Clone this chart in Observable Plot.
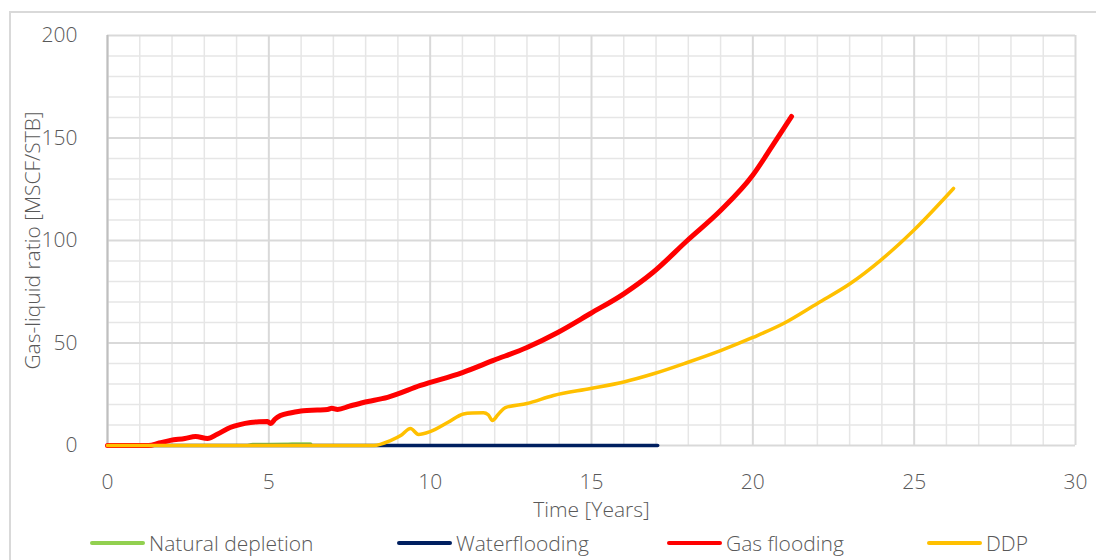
<!DOCTYPE html>
<html>
<head>
<meta charset="utf-8">
<script src="https://cdn.jsdelivr.net/npm/d3@7"></script>
<script src="https://cdn.jsdelivr.net/npm/@observablehq/plot@0.6"></script>
<style>
  html, body { margin: 0; padding: 0; background: #fff; }
  #wrap { position: relative; width: 1096px; height: 560px; overflow: hidden; font-family: "Open Sans", sans-serif; font-weight: 300; }
  #frame { position: absolute; left: 9px; top: 11px; width: 1100px; height: 560px; border-left: 2px solid #d9d9d9; border-top: 2px solid #d9d9d9; box-sizing: border-box; }
  #chart { position: absolute; left: 0; top: 0; }
  #legend { position: absolute; top: 529px; left: 0; width: 1096px; height: 28px; font-size: 21px; color: #595959; }
  .item { position: absolute; display: flex; align-items: center; white-space: nowrap; }
  .sw { display: inline-block; width: 55px; height: 4px; border-radius: 2px; margin-right: 4px; }
</style>
</head>
<body>
<div id="wrap">
  <div id="frame"></div>
  <div id="chart"></div>
  <div id="legend"></div>
</div>
<script>
// ---- data ----
const seriesNames = ["Natural depletion", "Waterflooding", "Gas flooding", "DDP"];
const seriesColors = ["#92D050", "#002060", "#FF0000", "#FFC000"];

const naturalT = [0, 4.3, 4.5, 5.5, 6.0, 6.3];
const naturalV = [0, 0, 0.6, 0.7, 0.9, 0.8];

const waterT = [0, 5, 10, 15, 17.05];
const waterV = [0, 0, 0, 0, 0];

const gasT = [0, 1.27, 1.6, 1.95, 2.4, 2.73, 3.1, 3.4, 3.8, 4.1, 4.43, 4.7, 4.96, 5.05, 5.2, 5.36, 5.7, 6.07, 6.5, 6.82, 6.95, 7.13, 7.5, 7.93, 8.68, 9.7, 11.0, 11.96, 13.0, 13.94, 14.97, 16.0, 16.9, 17.97, 19.0, 19.99, 20.64, 21.2];
const gasV = [0, 0, 1.2, 2.5, 3.4, 4.4, 3.4, 5.5, 8.8, 10.2, 11.2, 11.6, 11.7, 10.7, 13, 14.6, 16, 17, 17.3, 17.6, 18.2, 17.6, 19.2, 21, 23.5, 29.3, 35.6, 41.5, 47.8, 55, 64.4, 74, 84.4, 100, 114.6, 131.7, 147, 160.5];

const ddpT = [0, 8.25, 8.77, 9.1, 9.39, 9.64, 10.0, 10.54, 11.03, 11.3, 11.65, 11.8, 11.93, 12.1, 12.33, 13.0, 13.82, 14.97, 16.0, 16.92, 17.97, 19.0, 20.0, 20.95, 22.0, 23.02, 23.95, 24.98, 26.22];
const ddpV = [0, 0, 2.4, 5, 8.3, 5.4, 6.8, 11.2, 15.4, 15.9, 16, 15, 12.2, 15, 18.5, 20.5, 24.4, 27.8, 31, 35, 40.5, 46.3, 52.7, 59.5, 69.3, 79, 90.2, 104.9, 125.4];

const xTicks = [0, 5, 10, 15, 20, 25, 30];
const yTicks = [0, 50, 100, 150, 200];

// ---- build ----
const toRows = (ts, vs) => ts.map((t, i) => ({t, v: vs[i]}));
const natural = toRows(naturalT, naturalV);
const water = toRows(waterT, waterV);
const gas = toRows(gasT, gasV);
const ddp = toRows(ddpT, ddpV);

const minorX = d3.range(0, 31, 1).filter(d => d % 5 !== 0);
const majorX = d3.range(0, 31, 5);
const minorY = d3.range(0, 201, 10).filter(d => d % 50 !== 0);
const majorY = d3.range(0, 201, 50);

const chart = Plot.plot({
  width: 1096,
  height: 525,
  marginLeft: 107,
  marginRight: 21,
  marginTop: 35,
  marginBottom: 80,
  style: {fontFamily: "Open Sans, sans-serif", fontWeight: 300, fontSize: "21px", color: "#595959", background: "transparent"},
  x: {domain: [0, 30], ticks: xTicks, tickSize: 0, label: null},
  y: {domain: [0, 200], ticks: yTicks, tickSize: 0, label: null},
  marks: [
    Plot.ruleX(minorX, {stroke: "#e6e6e6", strokeWidth: 1.5}),
    Plot.ruleY(minorY, {stroke: "#e6e6e6", strokeWidth: 1.5}),
    Plot.ruleX(majorX, {stroke: "#d9d9d9", strokeWidth: 2}),
    Plot.ruleY(majorY, {stroke: "#d9d9d9", strokeWidth: 2}),
    Plot.ruleX([0], {stroke: "#bfbfbf", strokeWidth: 2}),
    Plot.axisX({ticks: xTicks, tickSize: 0, tickPadding: 29, fill: "#595959", fontSize: 21, label: null}),
    Plot.axisY({ticks: yTicks, tickSize: 0, tickPadding: 30, fill: "#595959", fontSize: 21, label: null}),
    Plot.text(["Time [Years]"], {frameAnchor: "bottom", dy: 71, fill: "#595959", fontSize: 21}),
    Plot.text(["Gas-liquid ratio [MSCF/STB]"], {frameAnchor: "left", textAnchor: "middle", dx: -74, rotate: -90, fill: "#595959", fontSize: 21}),
    Plot.line(natural, {x: "t", y: "v", stroke: seriesColors[0], strokeWidth: 3, curve: "monotone-x"}),
    Plot.line(water, {x: "t", y: "v", stroke: seriesColors[1], strokeWidth: 3.5, curve: "monotone-x"}),
    Plot.line(gas, {x: "t", y: "v", stroke: seriesColors[2], strokeWidth: 5, curve: "monotone-x", strokeLinecap: "round"}),
    Plot.line(ddp, {x: "t", y: "v", stroke: seriesColors[3], strokeWidth: 3.5, curve: "monotone-x", strokeLinecap: "round"})
  ]
});
document.getElementById("chart").appendChild(chart);

// legend
const legendX = [90, 397, 667, 927];
const legend = document.getElementById("legend");
seriesNames.forEach((name, i) => {
  const item = document.createElement("div");
  item.className = "item";
  item.style.left = legendX[i] + "px";
  item.style.top = "0px";
  const sw = document.createElement("span");
  sw.className = "sw";
  sw.style.background = seriesColors[i];
  const label = document.createElement("span");
  label.textContent = name;
  item.appendChild(sw);
  item.appendChild(label);
  legend.appendChild(item);
});
</script>
</body>
</html>
